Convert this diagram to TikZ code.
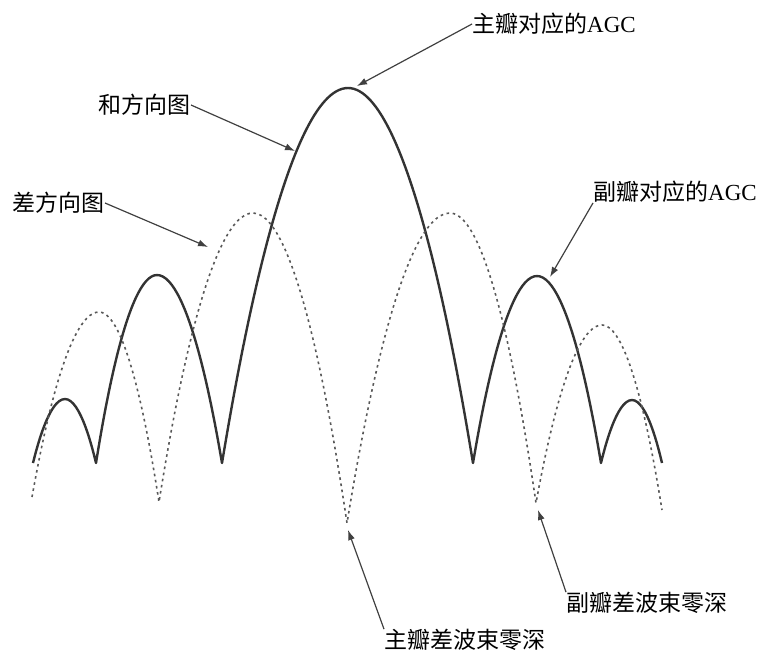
\documentclass[tikz,border=0pt]{standalone}
\usepackage{fontspec}
\setmainfont{Liberation Serif}
\newfontfamily\cjk{Noto Sans CJK SC}
\usetikzlibrary{arrows.meta}

\begin{document}
\begin{tikzpicture}[x=1pt,y=-1pt,
  sumline/.style={line width=2.4pt, color=black!80, line join=round},
  diffline/.style={line width=1.6pt, color=black!65, dash pattern=on 2.6pt off 3.6pt},
  pointer/.style={line width=1.2pt, color=black!75, -{Latex[length=10pt,width=7pt]}},
  lbl/.style={inner sep=0pt, font=\fontsize{23}{26}\selectfont}]
\useasboundingbox (0,0) rectangle (771,654);
% sum pattern
\draw [sumline] (33,463) parabola bend (65,399) (96,463)
  parabola bend (157,275) (222,463)
  parabola bend (348,88) (473,463)
  parabola bend (537,276) (601,463)
  parabola bend (632,400) (662,463);
% difference pattern
\draw [diffline] (32,497) parabola bend (99,312) (159,502)
  parabola bend (253,213) (347,523)
  parabola bend (450,213) (536,503)
  parabola bend (602,325) (662,510);
% points the labels refer to
\coordinate (mainpk) at (357,86);
\coordinate (sumpt) at (295,151);
\coordinate (diffpt) at (208,247);
\coordinate (sidepk) at (550,277);
\coordinate (mainnull) at (348,530);
\coordinate (sidenull) at (538,510);
% labels
\node [lbl, anchor=west] (zhuAGC) at (472,24) {{\cjk 主瓣对应的}AGC};
\node [lbl, anchor=east] (heDir) at (191,105) {\cjk 和方向图};
\node [lbl, anchor=east] (chaDir) at (105,203) {\cjk 差方向图};
\node [lbl, anchor=west] (fuAGC) at (593,192) {{\cjk 副瓣对应的}AGC};
\node [lbl, anchor=west] (zhuNull) at (384,640) {\cjk 主瓣差波束零深};
\node [lbl, anchor=west] (fuNull) at (566,603) {\cjk 副瓣差波束零深};
% pointers
\draw [pointer] (zhuAGC.west) -- (mainpk);
\draw [pointer] (heDir.east) -- (sumpt);
\draw [pointer] (chaDir.east) -- (diffpt);
\draw [pointer] (fuAGC.south west) -- (sidepk);
\draw [pointer] (zhuNull.north west) -- (mainnull);
\draw [pointer] (fuNull.north west) -- (sidenull);
\end{tikzpicture}
\end{document}
